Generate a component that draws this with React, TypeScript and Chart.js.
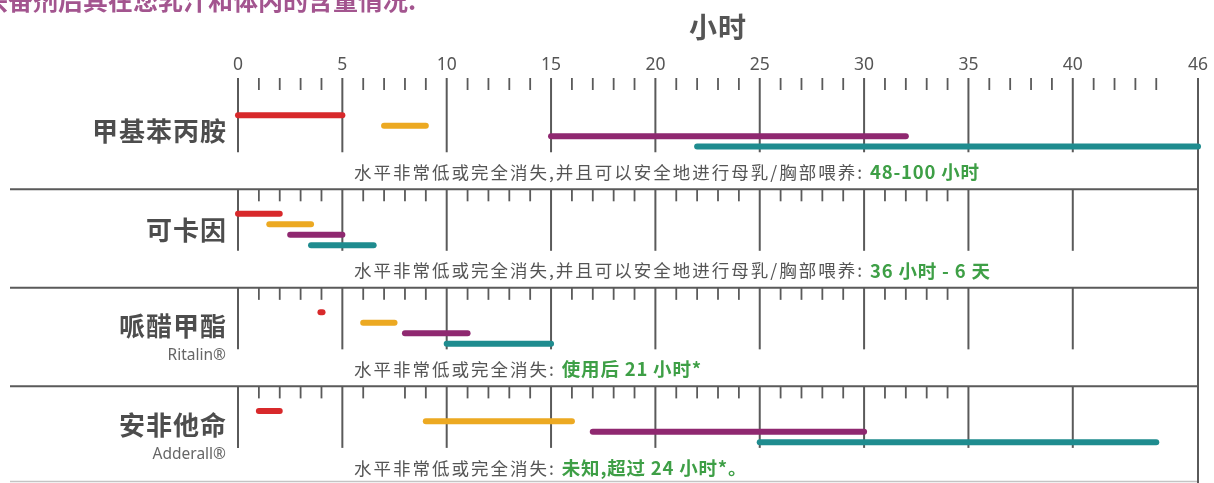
import { useEffect, useRef } from "react";
import { Chart, registerables } from "chart.js";

Chart.register(...registerables);

// ---------- data ----------
const headline = "兴奋剂后其在您乳汁和体内的含量情况.";
const axisTitle = "小时";
const hourLabels = [0, 5, 10, 15, 20, 25, 30, 35, 40, 46];
const drugs = ["甲基苯丙胺", "可卡因", "哌醋甲酯", "安非他命"];
const drugBrands = ["", "", "Ritalin®", "Adderall®"];
const seriesColors = ["#d8292b", "#eca922", "#8f2870", "#1f8c8f"];
// [start hour, end hour] for each drug (methamphetamine, cocaine, ritalin, adderall)
const redSpans = [[0, 5], [0, 2], [3.95, 4.05], [1, 2]];
const yellowSpans = [[7, 9], [1.5, 3.5], [6, 7.5], [9, 16]];
const purpleSpans = [[15, 32], [2.5, 5], [8, 11], [17, 30]];
const tealSpans = [[22, 46], [3.5, 6.5], [10, 15], [25, 44]];
const notePrefixes = [
  "水平非常低或完全消失,并且可以安全地进行母乳/胸部喂养: ",
  "水平非常低或完全消失,并且可以安全地进行母乳/胸部喂养: ",
  "水平非常低或完全消失: ",
  "水平非常低或完全消失: ",
];
const noteValues = ["48-100 小时", "36 小时 - 6 天", "使用后 21 小时*", "未知,超过 24 小时*。"];
const minorTickLast = [45, 34, 34, 34];
const missingMinorTicks = [[], [], [], [7]];

// ---------- layout ----------
const W = 1214;
const H = 483;
const PITCH = 9.43; // rows between sections
const FONT = "'Noto Sans CJK SC', 'Noto Sans', sans-serif";

const allSpans = [redSpans, yellowSpans, purpleSpans, tealSpans];

const overlay = {
  id: "overlay",
  beforeDatasetsDraw(chart: any) {
    const ctx = chart.ctx as CanvasRenderingContext2D;
    const xs = chart.scales.x;
    const ys = chart.scales.y;
    const px = (h: number) => xs.getPixelForValue(h);
    const right = px(46);
    ctx.save();

    // headline (cut at top)
    ctx.fillStyle = "#a3558f";
    ctx.font = `bold 25px ${FONT}`;
    (ctx as any).letterSpacing = "0px";
    ctx.textAlign = "left";
    ctx.textBaseline = "alphabetic";
    ctx.fillText(headline, -17, 10);

    // axis title
    ctx.fillStyle = "#555";
    ctx.font = `bold 28px ${FONT}`;
    (ctx as any).letterSpacing = "1px";
    ctx.textAlign = "center";
    ctx.textBaseline = "middle";
    ctx.fillText(axisTitle, 718, 27);

    // hour labels
    (ctx as any).letterSpacing = "0px";
    ctx.font = `17.5px 'Noto Sans', ${FONT}`;
    ctx.fillStyle = "#555";
    hourLabels.forEach((h) => ctx.fillText(String(h), px(h), 65));

    ctx.strokeStyle = "#5a5a5a";
    ctx.lineCap = "butt";

    drugs.forEach((name, d) => {
      const base = ys.getPixelForValue(d * PITCH);
      const tickTop = d === 0 ? 78 : base - 24.5;
      // minor ticks
      ctx.lineWidth = 1.8;
      for (let h = 1; h <= minorTickLast[d]; h++) {
        if (h % 5 === 0 || missingMinorTicks[d].includes(h)) continue;
        ctx.beginPath();
        ctx.moveTo(px(h), tickTop);
        ctx.lineTo(px(h), tickTop + 12);
        ctx.stroke();
      }
      // major lines
      ctx.lineWidth = 2;
      for (let h = 0; h <= 40; h += 5) {
        ctx.beginPath();
        ctx.moveTo(px(h), tickTop);
        ctx.lineTo(px(h), base + 37);
        ctx.stroke();
      }
      // separator
      const sep = Math.min(base + 74, H - 1.5);
      ctx.strokeStyle = d === drugs.length - 1 ? "#c4c4c4" : "#5a5a5a";
      ctx.lineWidth = d === drugs.length - 1 ? 1.5 : 2;
      ctx.beginPath();
      ctx.moveTo(10, sep);
      ctx.lineTo(right, sep);
      ctx.stroke();
      ctx.strokeStyle = "#5a5a5a";

      // drug name
      ctx.fillStyle = "#4d4d4d";
      ctx.font = `bold 26px ${FONT}`;
      (ctx as any).letterSpacing = "1px";
      ctx.textAlign = "right";
      ctx.textBaseline = "middle";
      ctx.fillText(name, 227, base + (drugBrands[d] ? 14 : 16));
      if (drugBrands[d]) {
        ctx.fillStyle = "#666";
        ctx.font = `15.5px 'Noto Sans', ${FONT}`;
        (ctx as any).letterSpacing = "0px";
        ctx.fillText(drugBrands[d], 226, base + 43.5);
      }

      // note
      ctx.textAlign = "left";
      ctx.font = `17.5px ${FONT}`;
      (ctx as any).letterSpacing = "2px";
      ctx.fillStyle = "#555";
      const nx = 354;
      const ny = base + 57;
      ctx.fillText(notePrefixes[d], nx, ny);
      const w = ctx.measureText(notePrefixes[d]).width;
      ctx.font = `bold 18.5px ${FONT}`;
      (ctx as any).letterSpacing = "0.8px";
      ctx.fillStyle = "#3e9f46";
      ctx.fillText(noteValues[d], nx + w, ny);
      (ctx as any).letterSpacing = "0px";
    });

    // right border line at 46
    ctx.strokeStyle = "#5a5a5a";
    ctx.lineWidth = 2;
    ctx.beginPath();
    ctx.moveTo(right, 78);
    ctx.lineTo(right, H);
    ctx.stroke();

    ctx.restore();
  },
};

export default function App() {
  const ref = useRef<HTMLCanvasElement | null>(null);
  useEffect(() => {
    document.body.style.margin = "0";
    const datasets: any[] = [];
    allSpans.forEach((spans, s) => {
      spans.forEach((span, d) => {
        const row = d * PITCH + s;
        datasets.push({
          label: `${drugs[d]}-${s}`,
          data: [
            { x: span[0], y: row },
            { x: span[1], y: row },
          ],
          borderColor: seriesColors[s],
          backgroundColor: seriesColors[s],
          borderWidth: 6,
          borderCapStyle: "round",
          pointRadius: 0,
          pointHoverRadius: 0,
          fill: false,
          clip: false,
        });
      });
    });
    const chart = new Chart(ref.current as HTMLCanvasElement, {
      type: "line",
      data: { datasets },
      options: {
        animation: false,
        responsive: false,
        devicePixelRatio: 1,
        layout: { padding: { left: 238, right: 16, top: 0, bottom: 0 } },
        scales: {
          x: { type: "linear", min: 0, max: 46, display: false },
          y: { type: "linear", min: -11.03, max: 35.19, reverse: true, display: false },
        },
        plugins: { legend: { display: false }, tooltip: { enabled: false } },
      },
      plugins: [overlay],
    } as any);
    return () => chart.destroy();
  }, []);
  return (
    <div style={{ position: "absolute", left: 0, top: 0, width: W, height: H, background: "#fff" }}>
      <canvas ref={ref} width={W} height={H} />
    </div>
  );
}
